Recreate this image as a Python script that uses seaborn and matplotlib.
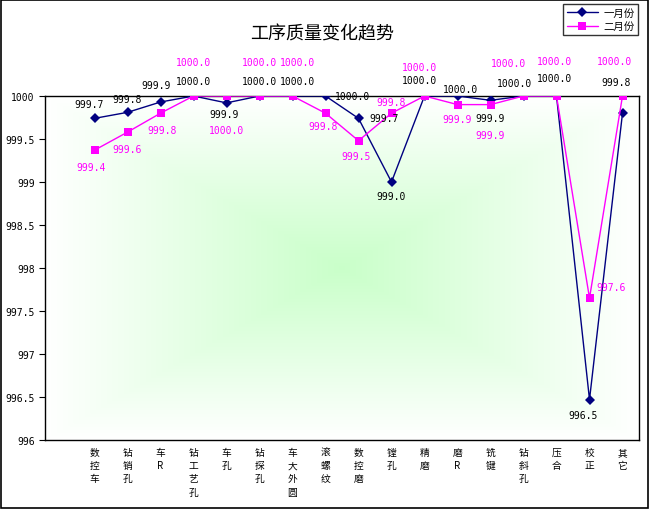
import numpy as np
import pandas as pd
import matplotlib
matplotlib.use("Agg")
import matplotlib.pyplot as plt
import seaborn as sns

processes = ["数控车", "钻销孔", "车R", "钻工艺孔", "车孔", "钻探孔", "车大外圆", "滚螺纹",
             "数控磨", "镗孔", "精磨", "磨R", "铣键", "钻斜孔", "压合", "校正", "其它"]
jan = [999.74, 999.81, 999.93, 1000.0, 999.92, 1000.0, 1000.0, 1000.0,
       999.74, 999.0, 1000.0, 1000.0, 999.95, 1000.0, 1000.0, 996.47, 999.8]
feb = [999.37, 999.58, 999.8, 1000.0, 1000.0, 1000.0, 1000.0, 999.8,
       999.48, 999.8, 1000.0, 999.9, 999.9, 1000.0, 1000.0, 997.65, 1000.0]
jan_labels = ["999.7", "999.8", "999.9", "1000.0", "999.9", "1000.0", "1000.0", "1000.0",
              "999.7", "999.0", "1000.0", "1000.0", "999.9", "1000.0", "1000.0", "996.5", "999.8"]
feb_labels = ["999.4", "999.6", "999.8", "1000.0", "1000.0", "1000.0", "1000.0", "999.8",
              "999.5", "999.8", "1000.0", "999.9", "999.9", "1000.0", "1000.0", "997.6", "1000.0"]
series_names = ["一月份", "二月份"]
yticks = [996, 996.5, 997, 997.5, 998, 998.5, 999, 999.5, 1000]

# label offsets in pixels (dx, dy) , dy positive = up
jan_off = [(-5, 14), (0, 13), (-4, 17), (0, 15), (-2, -11), (0, 15), (5, 15), (27, 0),
           (26, 0), (0, -14), (-5, 16), (3, 7), (0, -18), (-9, 13), (-2, 18), (-6, -15), (-6, 31)]
feb_off = [(-3, -17), (0, -17), (2, -17), (0, 34), (0, -34), (0, 34), (5, 34), (-2, -13),
           (-2, -15), (0, 11), (-5, 29), (0, -14), (0, -30), (-15, 33), (-2, 35), (22, 11), (-8, 35)]

df = pd.DataFrame({
    "pos": list(range(len(processes))) * 2,
    "value": jan + feb,
    "series": [series_names[0]] * len(jan) + [series_names[1]] * len(feb),
})

sns.set_style("white")
plt.rcParams["font.family"] = ["Noto Sans CJK SC", "DejaVu Sans"]
plt.rcParams["text.color"] = "black"
plt.rcParams["xtick.color"] = "black"
plt.rcParams["ytick.color"] = "black"

fig = plt.figure(figsize=(6.49, 5.10), dpi=100)
ax = fig.add_axes([45 / 649, 1 - 441 / 510, 594 / 649, 344 / 510])

# green gradient from the centre of the plot area
xx, yy = np.meshgrid(np.linspace(-1, 1, 300), np.linspace(-1, 1, 300))
t = np.clip(np.maximum(np.abs(xx), np.abs(yy)), 0, 1)
c0 = np.array([0.79, 1.0, 0.79])
img = c0[None, None, :] * (1 - t[..., None]) + np.ones(3)[None, None, :] * t[..., None]
ax.imshow(img, extent=[-1.5, 16.5, 996, 1000], aspect="auto", zorder=0)

colors = {"一月份": "#000080", "二月份": "#FF00FF"}
sns.lineplot(data=df[df.series == "一月份"], x="pos", y="value", color=colors["一月份"],
             marker="D", markersize=5, linewidth=1, markeredgewidth=0, ax=ax,
             label="一月份", zorder=3)
sns.lineplot(data=df[df.series == "二月份"], x="pos", y="value", color=colors["二月份"],
             marker="s", markersize=6, linewidth=1, markeredgewidth=0, ax=ax,
             label="二月份", zorder=4)

mono = "DejaVu Sans Mono"
for i in range(len(processes)):
    ax.annotate(jan_labels[i], (i, jan[i]), xytext=jan_off[i], textcoords="offset pixels",
                ha="center", va="center", fontsize=7, family=mono, color="black",
                zorder=5, annotation_clip=False)
    ax.annotate(feb_labels[i], (i, feb[i]), xytext=feb_off[i], textcoords="offset pixels",
                ha="center", va="center", fontsize=7, family=mono, color="#FF00FF",
                zorder=5, annotation_clip=False)

ax.set_xlim(-1.5, 16.5)
ax.set_ylim(996, 1000)
ax.set_yticks(yticks)
ax.set_yticklabels([f"{v:g}" for v in yticks], family=mono, fontsize=7)
ax.set_xticks(range(len(processes)))
ax.set_xticklabels(["\n".join(p) for p in processes], fontsize=7, va="top", linespacing=1.4)
ax.set_xticks(np.arange(-1.5, 16.6, 1), minor=True)
ax.tick_params(axis="x", which="major", length=0, pad=5)
ax.tick_params(axis="x", which="minor", length=4, width=0.8, direction="out", color="black")
ax.tick_params(axis="y", length=4, width=0.8, direction="out", color="black", left=True)
ax.set_xlabel("")
ax.set_ylabel("")
for s in ax.spines.values():
    s.set_color("black")
    s.set_linewidth(1)

ax.get_legend().remove()
h, l = ax.get_legend_handles_labels()
leg = fig.legend(h, l, loc="upper right", bbox_to_anchor=(638 / 649, 1 - 5 / 510),
                 frameon=True, fancybox=False, edgecolor="black", fontsize=7.5,
                 borderaxespad=0, handlelength=3, borderpad=0.35, labelspacing=0.35,
                 handletextpad=0.5)
leg.get_frame().set_linewidth(1)

fig.text(322 / 649, 1 - 34 / 510, "工序质量变化趋势", ha="center", va="center",
         fontsize=13, color="black")

fig.patches.append(plt.Rectangle((0.001, 0.001), 0.997, 0.997, transform=fig.transFigure,
                                 fill=False, edgecolor="black", linewidth=1.2))

fig.savefig("out.png", dpi=100)
